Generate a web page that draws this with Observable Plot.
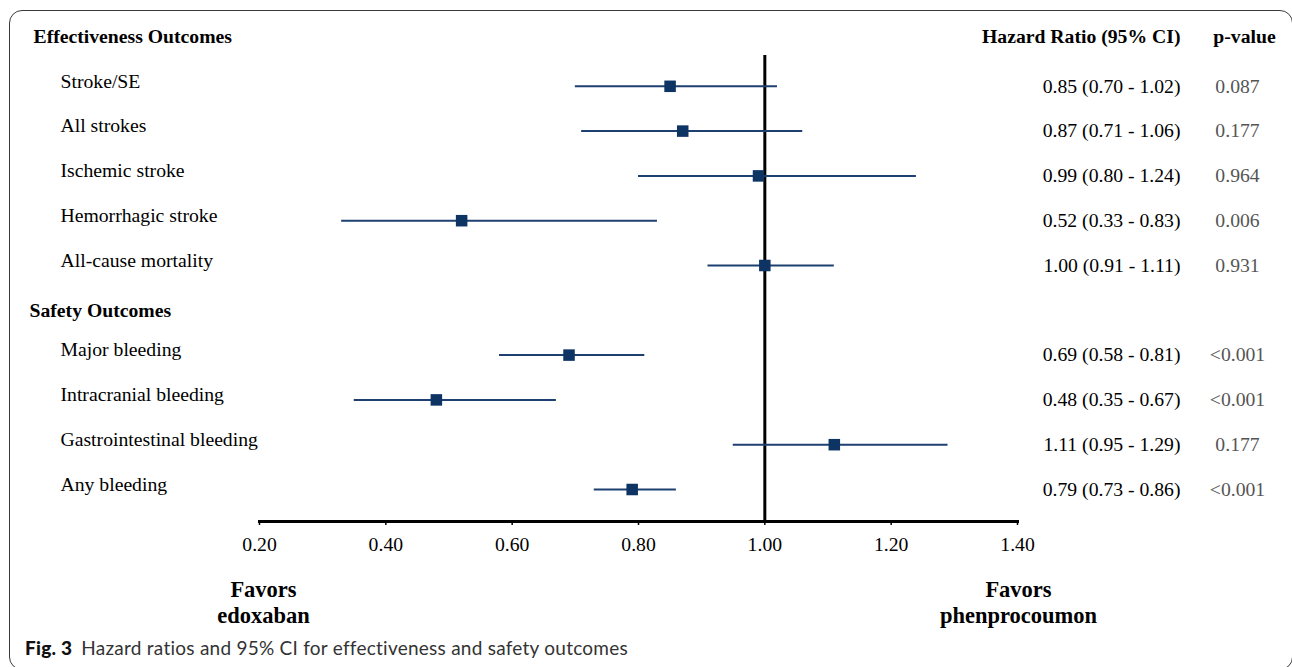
<!DOCTYPE html>
<html>
<head>
<meta charset="utf-8">
<script src="https://cdn.jsdelivr.net/npm/d3@7"></script>
<script src="https://cdn.jsdelivr.net/npm/@observablehq/plot@0.6"></script>
<style>
  html, body { margin: 0; padding: 0; background: #fff; width: 1292px; height: 667px; overflow: hidden; }
  #box { position: absolute; left: 9px; top: 10px; width: 1284px; height: 660px; box-sizing: border-box;
         border: 1.4px solid #3a3a3a; border-radius: 13px; }
  #chart { position: absolute; left: 0; top: 0; }
  #caption { position: absolute; left: 25px; top: 636px; font-family: Lato, 'Open Sans', sans-serif; font-size: 19px;
             letter-spacing: 0.25px; color: #333; white-space: nowrap; line-height: 24px; }
  #caption b { color: #111; margin-right: 9px; font-weight: 900; }
</style>
</head>
<body>
<div id="box"></div>
<div id="chart"></div>
<div id="caption"><b>Fig. 3</b>Hazard ratios and 95% CI for effectiveness and safety outcomes</div>
<script>
const effectivenessTitle = "Effectiveness Outcomes";
const safetyTitle = "Safety Outcomes";
const effectivenessOutcomes = ["Stroke/SE", "All strokes", "Ischemic stroke", "Hemorrhagic stroke", "All-cause mortality"];
const safetyOutcomes = ["Major bleeding", "Intracranial bleeding", "Gastrointestinal bleeding", "Any bleeding"];
const hr = [0.85, 0.87, 0.99, 0.52, 1.00, 0.69, 0.48, 1.11, 0.79];
const lo = [0.70, 0.71, 0.80, 0.33, 0.91, 0.58, 0.35, 0.95, 0.73];
const hi = [1.02, 1.06, 1.24, 0.83, 1.11, 0.81, 0.67, 1.29, 0.86];
const pValues = ["0.087", "0.177", "0.964", "0.006", "0.931", "<0.001", "<0.001", "0.177", "<0.001"];
const tickValues = [0.2, 0.4, 0.6, 0.8, 1.0, 1.2, 1.4];
const hrHeader = "Hazard Ratio (95% CI)";
const pHeader = "p-value";
const favorsLeft = "Favors\nedoxaban";
const favorsRight = "Favors\nphenprocoumon";

const f2 = d3.format(".2f");
const nEff = effectivenessOutcomes.length;
const table = [...effectivenessOutcomes, ...safetyOutcomes].map((name, i) => ({
  name,
  row: i < nEff ? i + 1 : i + 2,
  hr: hr[i], lo: lo[i], hi: hi[i], p: pValues[i],
  ci: `${f2(hr[i])} (${f2(lo[i])} - ${f2(hi[i])})`
}));
const effHeader = [{label: effectivenessTitle, row: 0}];
const safHeader = [{label: safetyTitle, row: nEff + 1}];
const colHeaders = [{row: 0}];

const serif = "'Liberation Serif', 'Times New Roman', serif";
const chart = Plot.plot({
  width: 1292, height: 630,
  marginLeft: 259, marginRight: 275, marginTop: 55, marginBottom: 109,
  insetTop: -14, insetBottom: 32,
  style: {fontFamily: serif, fontSize: "19.7px", color: "#000", background: "transparent", overflow: "visible"},
  x: {domain: [0.2, 1.4], label: null},
  y: {domain: [0, 10], reverse: true, axis: null},
  marks: [
    Plot.ruleX([1], {stroke: "#000", strokeWidth: 3}),
    Plot.ruleY(table, {y: "row", x1: "lo", x2: "hi", stroke: "#1d4070", strokeWidth: 2}),
    Plot.dot(table, {x: "hr", y: "row", symbol: "square", r: 6.5, fill: "#0e3463", stroke: null}),
    Plot.axisX({ticks: tickValues, tickFormat: f2, tickSize: 4, tickPadding: 11, fontSize: 19.7, stroke: "#000", strokeWidth: 1.5, fill: "#000"}),
    Plot.frame({anchor: "bottom", stroke: "#000", strokeWidth: 3}),
    Plot.text(table, {y: "row", text: "name", frameAnchor: "left", textAnchor: "start", dx: -199, dy: -5, fill: "#000"}),
    Plot.text(effHeader, {y: "row", text: "label", frameAnchor: "left", textAnchor: "start", dx: -226, dy: -5, fontWeight: "bold", fill: "#000"}),
    Plot.text(safHeader, {y: "row", text: "label", frameAnchor: "left", textAnchor: "start", dx: -230, dy: 0, fontWeight: "bold", fill: "#000"}),
    Plot.text(table, {y: "row", text: "ci", frameAnchor: "right", textAnchor: "end", dx: 163, fill: "#000"}),
    Plot.text(table, {y: "row", text: "p", frameAnchor: "right", textAnchor: "middle", dx: 220, fill: "#555"}),
    Plot.text(colHeaders, {y: "row", text: () => hrHeader, frameAnchor: "right", textAnchor: "end", dx: 163, dy: -5, fontWeight: "bold", fill: "#000"}),
    Plot.text(colHeaders, {y: "row", text: () => pHeader, frameAnchor: "right", textAnchor: "middle", dx: 227, dy: -5, fontWeight: "bold", fill: "#000"}),
    Plot.text([favorsLeft], {x: () => tickValues[0], text: d => d, frameAnchor: "bottom", lineAnchor: "middle", dy: 80, dx: 4, lineHeight: 1.16, fontSize: 22.5, fontWeight: "bold", fill: "#000"}),
    Plot.text([favorsRight], {x: () => tickValues[tickValues.length - 1], text: d => d, frameAnchor: "bottom", lineAnchor: "middle", dy: 80, dx: 1, lineHeight: 1.16, fontSize: 22.5, fontWeight: "bold", fill: "#000"})
  ]
});
document.getElementById("chart").appendChild(chart);
</script>
</body>
</html>
